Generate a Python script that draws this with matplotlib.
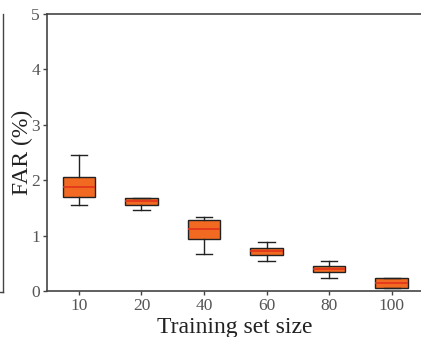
import numpy as np
import matplotlib.pyplot as plt

plt.rcParams['font.family'] = ['Liberation Serif', 'DejaVu Serif']

# training set sizes and FAR box statistics (%)
sizes = ['10', '20', '40', '60', '80', '100']
whislo = [1.56, 1.46, 0.66, 0.54, 0.23, 0.05]
q1 = [1.70, 1.56, 0.94, 0.65, 0.34, 0.05]
med = [1.88, 1.62, 1.12, 0.72, 0.40, 0.14]
q3 = [2.05, 1.68, 1.29, 0.78, 0.46, 0.23]
whishi = [2.45, 1.68, 1.34, 0.88, 0.54, 0.23]

stats = []
for i in range(len(sizes)):
    stats.append(dict(label=sizes[i], whislo=whislo[i], q1=q1[i], med=med[i],
                      q3=q3[i], whishi=whishi[i], fliers=[]))

W, H = 421, 337
fig = plt.figure(figsize=(W / 100, H / 100), dpi=100)

# edge of the neighbouring panel on the left
ax0 = fig.add_axes([-100 / W, (H - 292) / H, 102.5 / W, 278 / H])
for s in ['left', 'top']:
    ax0.spines[s].set_visible(False)
for s in ['right', 'bottom']:
    ax0.spines[s].set_color('#444444')
    ax0.spines[s].set_linewidth(1.0)
ax0.set_xticks([])
ax0.set_yticks([])

ax = fig.add_axes([47 / W, (H - 291) / H, 376 / W, 277 / H])
edge = '#222222'
ax.bxp(stats, positions=np.arange(1, 7), widths=0.52, patch_artist=True,
       boxprops=dict(facecolor='#f26a21', edgecolor=edge, linewidth=1.0),
       medianprops=dict(color='#e0321a', linewidth=1.2),
       whiskerprops=dict(color=edge, linewidth=1.0),
       capprops=dict(color=edge, linewidth=1.0),
       capwidths=0.26)

ax.set_xlim(0.49, 6.5)
ax.set_ylim(0, 5)
ax.set_yticks([0, 1, 2, 3, 4, 5])
ax.set_xticks(np.arange(1, 7))
ax.set_xticklabels(sizes)
ax.tick_params(labelsize=12.5, labelcolor='#555555', color='#444444',
               length=3, width=1.0, pad=2)
for s in ax.spines.values():
    s.set_color('#444444')
    s.set_linewidth(1.2)

ax.set_xlabel('Training set size', fontsize=17, color='#222222', labelpad=2)
ax.set_ylabel('FAR (%)', fontsize=17, color='#222222', labelpad=-1)

fig.savefig('out.png', dpi=100)
